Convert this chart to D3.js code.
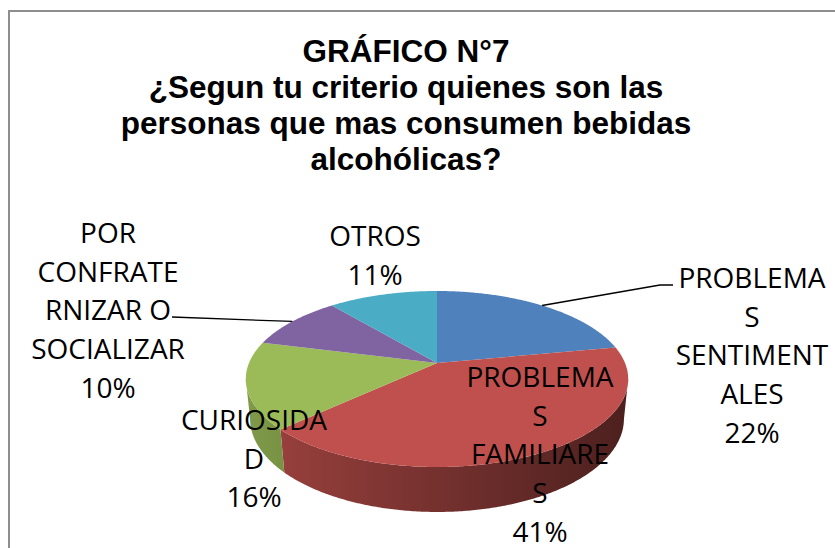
<!DOCTYPE html>
<html lang="es">
<head>
<meta charset="utf-8">
<title>Gráfico N°7</title>
<script src="https://d3js.org/d3.v7.min.js"></script>
<style>
  body { margin: 0; background: #fff; }
  svg { display: block; }
</style>
</head>
<body>
<div id="chart"></div>
<script>
// data
var categories = ["PROBLEMAS SENTIMENTALES", "PROBLEMAS FAMILIARES", "CURIOSIDAD",
                  "POR CONFRATERNIZAR O SOCIALIZAR", "OTROS"];
var values = [22, 41, 16, 10, 11];
// label text as Excel wrapped it
var labelLines = [["PROBLEMA", "S", "SENTIMENT", "ALES"],
                  ["PROBLEMA", "S", "FAMILIARE", "S"],
                  ["CURIOSIDA", "D"],
                  ["POR", "CONFRATE", "RNIZAR O", "SOCIALIZAR"],
                  ["OTROS"]];
var titleLines = ["GRÁFICO N°7", "¿Segun tu criterio quienes son las",
                  "personas que mas consumen bebidas", "alcohólicas?"];
var colors = ["#4F81BD", "#C0504D", "#9BBB59", "#8064A2", "#4BACC6"];

// layout
var w = 835, h = 548;
var labelPos = [[752, 288], [540, 387], [254, 430], [108, 243], [375, 246]];
var lineGap = 38.7;

var svg = d3.select("#chart").append("svg")
  .attr("width", w)
  .attr("height", h)
  .style("font-family", "'Open Sans', sans-serif");

// chart frame
svg.append("rect")
  .attr("x", 9).attr("y", 11)
  .attr("width", 900).attr("height", 600)
  .attr("fill", "none")
  .attr("stroke", "#8e8e8e")
  .attr("stroke-width", 2);

// title
var title = svg.append("text")
  .attr("text-anchor", "middle")
  .attr("font-family", "'Liberation Sans', Arial, sans-serif")
  .attr("font-weight", "bold")
  .attr("font-size", "31.5px")
  .attr("fill", "#000");
title.selectAll("tspan")
  .data(titleLines)
  .enter()
  .append("tspan")
  .attr("x", 406)
  .attr("y", function(d, i) { return 62 + i * 36; })
  .text(function(d) { return d; });

// 3D pie: disc of radius 1 seen in perspective
var cx = 437, cy = 363;          // screen position of disc centre
var focal = 922, dist = 4.904;   // camera
var tilt = Math.asin(0.4526);
var sinT = Math.sin(tilt), cosT = Math.cos(tilt);
var thick = 0.239;

// angle measured clockwise from 12 o'clock, y = height of the point
function project(a, y) {
  var x = Math.sin(a), z = Math.cos(a);
  var up = y * cosT + z * sinT;
  var depth = dist + z * cosT - y * sinT;
  return [cx + focal * x / depth, cy - focal * up / depth];
}

var pie = d3.pie().sort(null).value(function(d) { return d; })
  .startAngle(0).endAngle(2 * Math.PI);
var arcs = pie(values);

function rim(a0, a1, y) {
  var n = Math.max(2, Math.ceil((a1 - a0) / 0.01));
  return d3.range(n + 1).map(function(i) { return project(a0 + (a1 - a0) * i / n, y); });
}

// silhouette angles (extreme left / right of the rim)
var samples = d3.range(0, 2 * Math.PI, 0.002);
var aRight = d3.greatest(samples.filter(function(a) { return a < Math.PI; }),
  function(a) { return project(a, 0)[0]; });
var aLeft = d3.least(samples.filter(function(a) { return a > Math.PI; }),
  function(a) { return project(a, 0)[0]; });

var xMin = project(aLeft, 0)[0], xMax = project(aRight, 0)[0];

// side shading gradients
var defs = svg.append("defs");
colors.forEach(function(col, i) {
  var g = defs.append("linearGradient")
    .attr("id", "side" + i)
    .attr("gradientUnits", "userSpaceOnUse")
    .attr("x1", xMin).attr("x2", xMax)
    .attr("y1", 0).attr("y2", 0);
  g.append("stop").attr("offset", 0).attr("stop-color", d3.rgb(col).darker(0.55));
  g.append("stop").attr("offset", 1).attr("stop-color", d3.rgb(col).darker(2.6));
});

var line = d3.line();

// front walls
arcs.forEach(function(d, i) {
  var a0 = Math.max(d.startAngle, aRight);
  var a1 = Math.min(d.endAngle, aLeft);
  if (a1 <= a0) return;
  var top = rim(a0, a1, 0);
  var bottom = rim(a0, a1, -thick).reverse();
  svg.append("path")
    .attr("d", line(top.concat(bottom)) + "Z")
    .attr("fill", "url(#side" + i + ")");
});

// top faces
var apex = [cx, cy];
svg.selectAll("path.slice")
  .data(arcs)
  .enter()
  .append("path")
  .attr("class", "slice")
  .attr("d", function(d) {
    return line([apex].concat(rim(d.startAngle, d.endAngle, 0))) + "Z";
  })
  .attr("fill", function(d, i) { return colors[i]; });

// leader lines
function mid(i) {
  return project((arcs[i].startAngle + arcs[i].endAngle) / 2, 0);
}
svg.append("path")
  .attr("d", line([mid(0), [660, 285], [673, 285]]))
  .attr("fill", "none").attr("stroke", "#000").attr("stroke-width", 1.3);
svg.append("path")
  .attr("d", line([mid(3), [172, 317]]))
  .attr("fill", "none").attr("stroke", "#000").attr("stroke-width", 1.3);

// data labels
var labels = svg.selectAll("text.lbl")
  .data(categories)
  .enter()
  .append("text")
  .attr("class", "lbl")
  .attr("text-anchor", "middle")
  .attr("font-size", "28px")
  .attr("fill", "#000");

labels.each(function(d, i) {
  var lines = labelLines[i].concat([values[i] + "%"]);
  d3.select(this).selectAll("tspan")
    .data(lines)
    .enter()
    .append("tspan")
    .attr("x", labelPos[i][0])
    .attr("y", function(t, j) { return labelPos[i][1] + j * lineGap; })
    .text(function(t) { return t; });
});
</script>
</body>
</html>
